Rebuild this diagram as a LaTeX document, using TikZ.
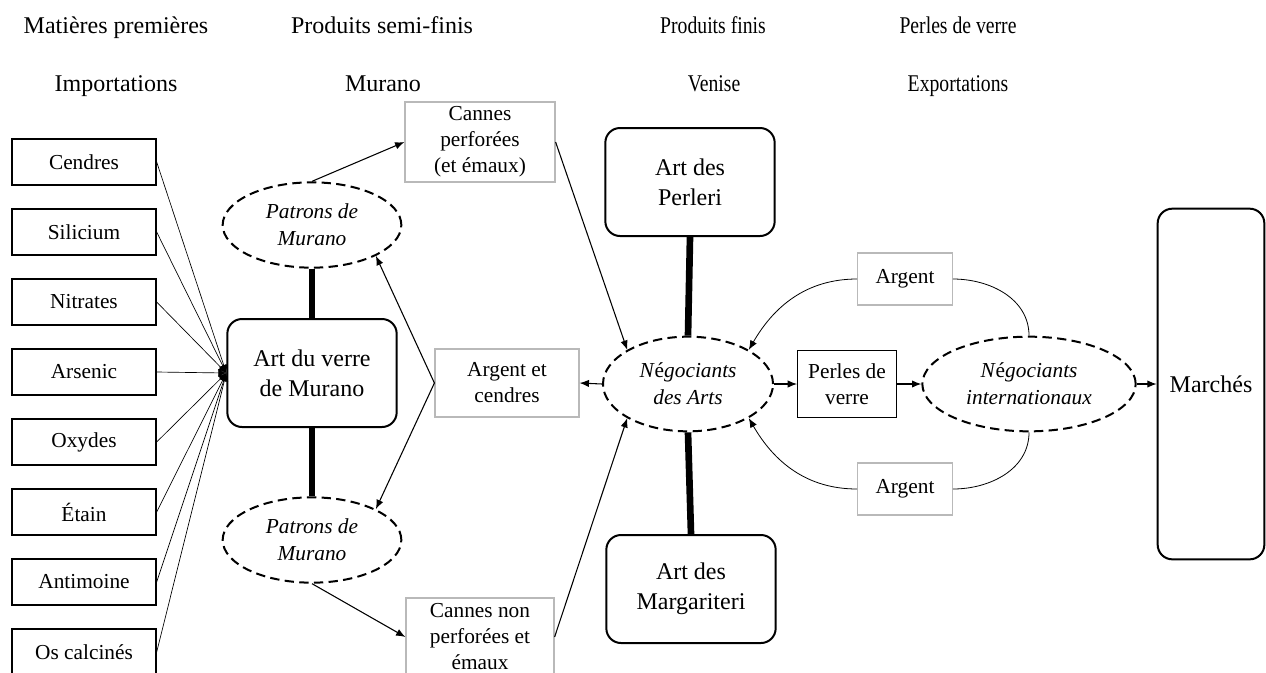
\documentclass[tikz,border=0pt]{standalone}
\usepackage{fontspec}
\setmainfont{Liberation Serif}
\usetikzlibrary{shapes.geometric,arrows.meta}

\begin{document}
\begin{tikzpicture}[x=0.75pt,y=-0.75pt]
        \useasboundingbox (0,0) rectangle (1266,672);
        % en-tetes
        \begin{scope}[every node/.style={anchor=base,font=\fontsize{18}{20}\selectfont}]
            \node (h1) at (116,33) {Matières premières};
            \node (h2) at (382,33) {Produits semi-finis};
            \node (h3) [transform shape,xscale=0.82] at (713,33) {Produits finis};
            \node (h4) [transform shape,xscale=0.82] at (958,33) {Perles de verre};
            \node (h5) at (116,91) {Importations};
            \node (h6) at (383,91) {Murano};
            \node (h7) [transform shape,xscale=0.82] at (714,91) {Venise};
            \node (h8) [transform shape,xscale=0.82] at (958,91) {Exportations};
        \end{scope}
        % matieres premieres
        \begin{scope}[every node/.style={draw,line width=1pt,minimum width=108pt,minimum height=34.5pt,font=\fontsize{16}{19}\selectfont}]
            \node (cendres) at (84,162) {Cendres};
            \node (silicium) at (84,232) {Silicium};
            \node (nitrates) at (84,302) {Nitrates};
            \node (arsenic) at (84,372) {Arsenic};
            \node (oxydes) at (84,442) {Oxydes};
            \node (etain) at (84,512) {Étain};
            \node (antimoine) at (84,582) {Antimoine};
            \node (os) at (84,652) {Os calcinés};
        \end{scope}
        % ateliers et marches
        \begin{scope}[every node/.style={draw,rounded corners=11pt,line width=1.5pt,minimum width=127pt,minimum height=81pt,align=center,font=\fontsize{18}{22.5}\selectfont}]
            \node (verre) at (312,373) {Art du verre\\de Murano};
            \node (perleri) at (690,182) {Art des\\Perleri};
            \node (margariteri) at (691,589) {Art des\\Margariteri};
            \node (marches) [minimum width=80pt,minimum height=263pt] at (1211,384) {Marchés};
        \end{scope}
        % acteurs
        \begin{scope}[every node/.style={ellipse,draw,line width=1.5pt,dash pattern=on 7pt off 4pt,inner sep=0pt,align=center,font=\fontsize{16}{20}\selectfont\itshape}]
            \node (patronsA) [minimum width=134pt,minimum height=64pt] at (312,225) {Patrons de\\Murano};
            \node (patronsB) [minimum width=134pt,minimum height=64pt] at (312,540) {Patrons de\\Murano};
            \node (nego) [minimum width=127.5pt,minimum height=71pt] at (688,384) {N\textup{é}gociants\\des Arts};
            \node (inter) [minimum width=160pt,minimum height=71pt] at (1029,384) {N\textup{é}gociants\\internationaux};
        \end{scope}
        % flux
        \begin{scope}[every node/.style={draw=gray!55,line width=0.9pt,inner sep=2pt,align=center,font=\fontsize{16}{19.5}\selectfont}]
            \node (cp) [minimum width=112.5pt,minimum height=60pt] at (480,142) {Cannes\\perforées\\(et émaux)};
            \node (ac) [minimum width=108pt,minimum height=51pt] at (507,383) {Argent et\\cendres};
            \node (cnp) [minimum width=111pt,minimum height=58.5pt] at (480,637) {Cannes non\\perforées et\\émaux};
            \node (argentA) [minimum width=71pt,minimum height=39pt] at (905,279) {Argent};
            \node (argentB) [minimum width=71pt,minimum height=39pt] at (905,489) {Argent};
            \node (pv) [draw=black,minimum width=74pt,minimum height=50pt] at (847,384) {Perles de\\verre};
        \end{scope}
        % apports
        \begin{scope}[every edge/.style={draw,line width=0.5pt,-{Latex[length=6pt,width=6pt]}}]
            \path
                (cendres.east) edge (verre.west)
                (silicium.east) edge (verre.west)
                (nitrates.east) edge (verre.west)
                (arsenic.east) edge (verre.west)
                (oxydes.east) edge (verre.west)
                (etain.east) edge (verre.west)
                (antimoine.east) edge (verre.west)
                (os.east) edge (verre.west);
        \end{scope}
        % liens forts
        \begin{scope}[every edge/.style={draw,line width=5pt}]
            \path
                (patronsA.south) edge (verre.north)
                (verre.south) edge (patronsB.north)
                (perleri.south) edge (nego.north)
                (nego.south) edge (margariteri.north);
        \end{scope}
        % echanges
        \begin{scope}[every edge/.style={draw,line width=0.8pt,-{Latex[length=7pt,width=5.5pt]}}]
            \path
                (patronsA.north) edge (cp.west)
                (ac.west) edge (patronsA.south east)
                (ac.west) edge (patronsB.north east)
                (patronsB.south) edge (cnp.west)
                (cp.east) edge (nego.north west)
                (cnp.east) edge (nego.south west)
                (nego.west) edge (ac.east)
                (nego.east) edge (pv.west)
                (pv.east) edge (inter.west)
                (inter.east) edge (marches.west);
        \end{scope}
        \begin{scope}[every edge/.style={draw,line width=0.6pt}]
            \path
                (inter.north) edge [out=90,in=0] (argentA.east)
                (argentA.west) edge [out=180,in=60,-{Latex[length=7pt,width=5.5pt]}] (nego.north east)
                (inter.south) edge [out=-90,in=0] (argentB.east)
                (argentB.west) edge [out=180,in=-60,-{Latex[length=7pt,width=5.5pt]}] (nego.south east);
        \end{scope}
    \end{tikzpicture}
\end{document}
